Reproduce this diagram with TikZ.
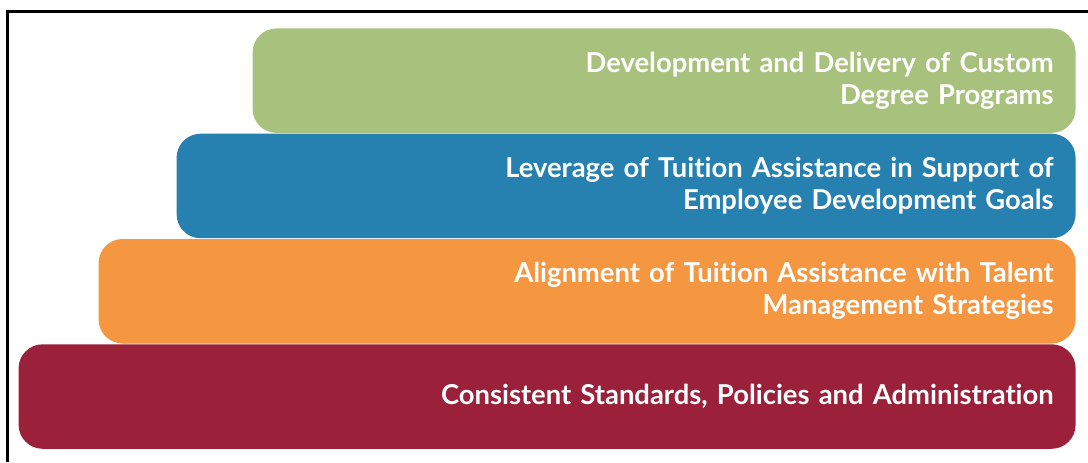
\documentclass[tikz,border=0pt]{standalone}
\usepackage{fontspec}
\setmainfont{Lato}[Ligatures=NoCommon]
\usetikzlibrary{positioning}
\definecolor{tiergreen}{RGB}{168,193,125}
\definecolor{tierblue}{RGB}{38,128,176}
\definecolor{tierorange}{RGB}{245,150,65}
\definecolor{tierred}{RGB}{155,32,58}
\begin{document}
\begin{tikzpicture}[
				x=0.5pt, y=-0.5pt,
				tier/.style={rectangle, rounded corners=12pt, text=white, font=\bfseries\fontsize{13.7}{16}\selectfont, align=right, inner xsep=11pt, inner ysep=0pt, minimum height=52.25pt}
				]
				\useasboundingbox (0,0) rectangle (1088,462);
				% frame
				\coordinate (corner) at (7,11);
				\coordinate (topend) at (1088,11);
				\coordinate (leftend) at (7,462);
				\draw[line width=1.5pt] (topend) -- (corner) -- (leftend);
				
				\node[tier, fill=tiergreen, text width=389.5pt, anchor=north east] (custom) at (1076,28) {Development and Delivery of Custom\\Degree Programs};
				\node[tier, fill=tierblue, text width=427.5pt, below left=0pt and 0pt of custom.south east] (leverage) {Leverage of Tuition Assistance in Support of\\Employee Development Goals};
				\node[tier, fill=tierorange, text width=466.5pt, below left=0pt and 0pt of leverage.south east] (alignment) {Alignment of Tuition Assistance with Talent\\Management Strategies};
				\node[tier, fill=tierred, text width=506.5pt, below left=0pt and 0pt of alignment.south east] (standards) {Consistent Standards, Policies and Administration};
			\end{tikzpicture}
\end{document}
